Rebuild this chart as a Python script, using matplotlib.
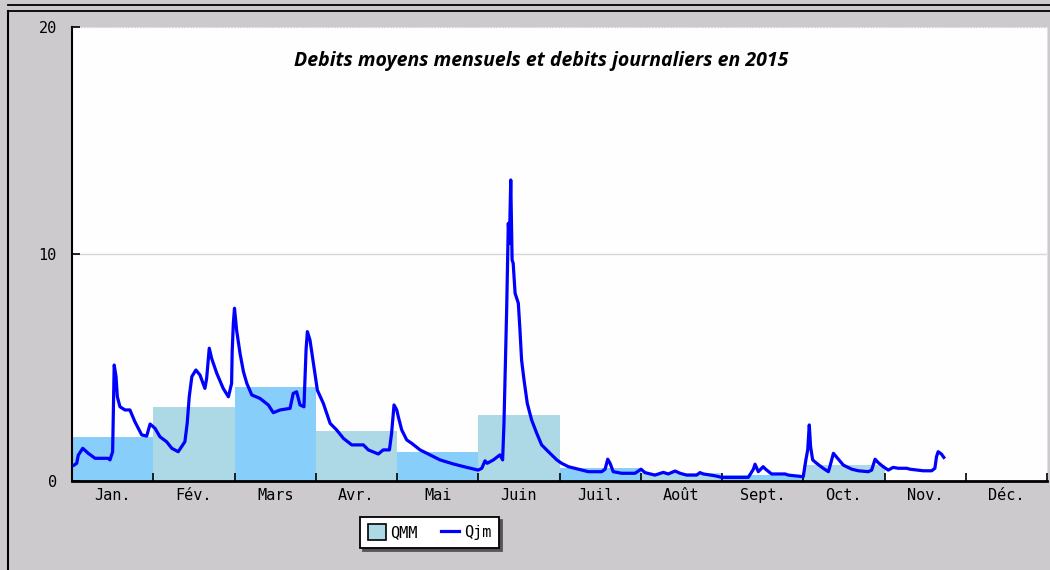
import numpy as np
import matplotlib
matplotlib.use("Agg")
import matplotlib.pyplot as plt
from matplotlib.lines import Line2D
from matplotlib.patches import Patch

# ─── Data ──────────────────────────────────────────────────────────────────────

months = ["Jan.", "Fév.", "Mars", "Avr.", "Mai", "Juin",
          "Juil.", "Août", "Sept.", "Oct.", "Nov.", "Déc."]
month_days = [31, 28, 31, 30, 31, 30, 31, 31, 30, 31, 30, 31]

# monthly mean flow (QMM), Jan..Oct
qmm = [1.94, 3.27, 4.13, 2.20, 1.26, 2.92, 0.56, 0.36, 0.27, 0.70]

# daily flow (Qjm), day of year 2015 (0 = 1 Jan) and value
qjm_day = [0.8, 1.8, 2.4, 4.1, 6.2, 8.8, 13.8, 14.5, 15.5, 15.8, 16.1, 16.8,
           17.3, 18.3, 20.2, 22.1, 24.0, 26.6, 28.5, 29.8,
           31.6, 33.3, 35.6, 37.4, 39.6, 41.9, 42.7, 43.4, 44.3, 45.7, 47.1,
           48.8, 49.4, 50.3, 51.1, 52.9, 55.1, 56.9, 58.0, 58.2, 58.6,
           59.0, 59.8, 61.1, 62.4, 63.7, 65.6, 68.7, 71.9, 73.8, 76.4, 80.2,
           81.4, 82.7, 84.0, 85.5, 86.3, 86.8, 87.8, 89.1,
           90.6, 92.8, 95.3, 97.7, 100.2, 103.3, 107.6, 109.4, 113.1, 114.9,
           117.2, 118.0, 118.9, 119.9,
           120.5, 121.8, 123.7, 125.6, 128.8, 132.6, 136.4, 141.5, 146.6,
           151.0, 152.3, 153.5, 154.3, 156.6, 159.0, 160.0, 160.5, 160.9,
           161.5, 162.1, 162.5, 163.0, 163.5, 163.9, 164.6, 165.8, 166.4,
           167.0, 167.9, 169.1, 170.7, 172.6, 174.4, 177.5, 180.0,
           181.8, 184.4, 188.2, 192.0, 197.1, 198.4, 199.4, 200.3, 201.5,
           204.7, 209.8,
           212.1, 213.6, 217.4, 220.6, 222.5, 225.1, 227.0, 229.5, 233.3,
           234.6, 235.9, 240.3,
           242.9, 252.7, 254.6, 255.2, 256.4, 258.2, 259.1, 261.3, 266.3,
           267.5, 273.0,
           274.0, 274.7, 275.3, 275.8, 276.6, 278.1, 280.6, 282.6, 283.5,
           284.5, 285.8, 288.3, 291.5, 294.0, 297.8, 299.1, 300.4, 301.6,
           303.5,
           305.4, 307.2, 309.1, 312.2, 313.4, 318.3, 321.4, 322.6, 323.2,
           323.8, 325.0, 325.9]
qjm = [0.70, 0.78, 1.14, 1.44, 1.22, 1.00, 1.00, 0.93, 1.29, 3.27, 5.11, 4.60,
       3.71, 3.27, 3.13, 3.13, 2.61, 2.03, 1.98, 2.51,
       2.32, 1.95, 1.73, 1.44, 1.29, 1.73, 2.54, 3.71, 4.60, 4.89, 4.67,
       4.08, 4.52, 5.85, 5.41, 4.74, 4.08, 3.71, 4.30, 5.70, 6.95,
       7.61, 6.65, 5.63, 4.82, 4.30, 3.79, 3.64, 3.35, 3.01, 3.13, 3.20,
       3.86, 3.93, 3.35, 3.27, 5.77, 6.58, 6.21, 5.18,
       4.00, 3.42, 2.54, 2.25, 1.88, 1.59, 1.59, 1.37, 1.19, 1.37,
       1.37, 2.10, 3.35, 3.13,
       2.83, 2.25, 1.81, 1.66, 1.37, 1.15, 0.93, 0.75, 0.60,
       0.48, 0.56, 0.89, 0.78, 0.93, 1.15, 0.93, 2.54, 4.60,
       7.61, 11.35, 10.47, 13.26, 9.74, 9.59, 8.27, 7.83, 6.65,
       5.33, 4.45, 3.42, 2.69, 2.10, 1.59, 1.22, 0.93,
       0.78, 0.63, 0.52, 0.41, 0.41, 0.52, 0.96, 0.78, 0.41,
       0.34, 0.34,
       0.52, 0.37, 0.26, 0.38, 0.31, 0.44, 0.34, 0.26, 0.26,
       0.37, 0.31, 0.23,
       0.16, 0.16, 0.52, 0.74, 0.41, 0.63, 0.52, 0.31, 0.31,
       0.26, 0.19,
       0.93, 1.37, 2.47, 1.51, 0.93, 0.78, 0.56, 0.41, 0.78,
       1.22, 1.04, 0.70, 0.52, 0.45, 0.41, 0.48, 0.96, 0.81,
       0.63,
       0.48, 0.60, 0.56, 0.56, 0.52, 0.45, 0.45, 0.56, 1.07,
       1.29, 1.19, 1.04]

title = "Debits moyens mensuels et debits journaliers en 2015"


# ─── Helpers ───────────────────────────────────────────────────────────────────

def day_to_month_pos(days):
    """Map day of year onto an axis where every month has equal width."""
    starts = np.concatenate([[0], np.cumsum(month_days)[:-1]])
    days = np.asarray(days, dtype=float)
    m = np.searchsorted(starts, days, side="right") - 1
    return m + (days - starts[m]) / np.asarray(month_days)[m]


# ─── Figure ────────────────────────────────────────────────────────────────────

BG = "#cccacd"
mono = "DejaVu Sans Mono"

fig = plt.figure(figsize=(10.5, 5.7), dpi=100)
fig.patch.set_facecolor(BG)
ax = fig.add_axes([72 / 1050, 1 - 481 / 570, 975 / 1050, 454 / 570])
ax.set_facecolor("#fdfefd")
ax.set_axisbelow(False)

# outer frame lines
for yy in (1 - 4.5 / 570, 1 - 10.5 / 570):
    fig.add_artist(Line2D([8 / 1050, 1], [yy, yy], color="black", lw=1.3,
                          transform=fig.transFigure))
fig.add_artist(Line2D([8 / 1050, 8 / 1050], [0, 1 - 10.5 / 570],
                      color="black", lw=1.5, transform=fig.transFigure))

bar_colors = ["#87cefa" if i % 2 == 0 else "#add8e6" for i in range(len(qmm))]
ax.bar(np.arange(len(qmm)), qmm, width=1, align="edge",
       color=bar_colors, linewidth=0, zorder=2)

ax.axhline(10, color="#d6d6d6", lw=1, zorder=1)
ax.plot(day_to_month_pos(qjm_day), qjm, color="#0000ff", lw=2.3, zorder=3)

ax.set_xlim(0, 12)
ax.set_ylim(0, 20)
ax.set_xticks(np.arange(13))
ax.set_xticklabels([])
ax.set_xticks(np.arange(12) + 0.5, minor=True)
ax.set_xticklabels(months, minor=True, fontfamily=mono, fontsize=11)
ax.tick_params(axis="x", which="major", direction="in", length=6, width=1.2,
               color="black")
ax.tick_params(axis="x", which="minor", length=0, pad=5)
ax.set_yticks([0, 10, 20])
ax.set_yticklabels(["0", "10", "20"], fontfamily=mono, fontsize=11)
ax.tick_params(axis="y", direction="in", length=6, width=1.2, pad=11)

ax.spines["left"].set_linewidth(1.5)
ax.spines["bottom"].set_linewidth(2)
ax.spines["top"].set_color("#d4d4d4")
ax.spines["top"].set_linestyle(":")
ax.spines["right"].set_color("#e2e2e2")

ax.text(0.481, 0.925, title, transform=ax.transAxes, ha="center", va="center",
        fontfamily="Open Sans", fontweight="bold", fontstyle="italic",
        fontsize=14)

handles = [Patch(facecolor="#add8e6", edgecolor="black", linewidth=1.2),
           Line2D([], [], color="#0000ff", lw=2.3)]
leg = fig.legend(handles, ["QMM", "Qjm"], loc="center",
                 bbox_to_anchor=(0.409, 0.066), ncol=2, frameon=True,
                 fancybox=False, shadow={"color": "#555555", "alpha": 1},
                 handlelength=1.2, handleheight=1.2, handletextpad=0.3,
                 columnspacing=1.5, borderpad=0.5,
                 prop={"family": mono, "size": 11})
leg.get_frame().set_edgecolor("black")
leg.get_frame().set_linewidth(1.3)

fig.savefig("out.png", dpi=100, facecolor=fig.get_facecolor())
